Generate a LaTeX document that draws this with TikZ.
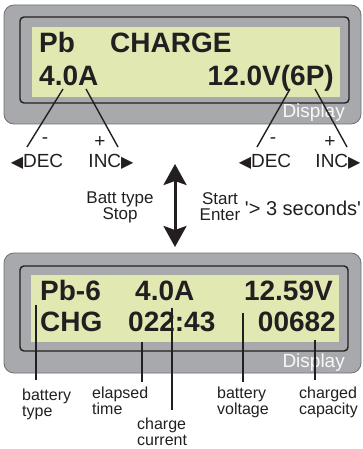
\documentclass[tikz,border=0pt]{standalone}
\usepackage{fontspec}
\setmainfont{Liberation Sans}
\newfontfamily\symfont{DejaVu Sans}
\font\quotefont="Liberation Sans" at 20pt
\usetikzlibrary{arrows.meta}
\definecolor{bezel}{HTML}{A7A9AC}
\definecolor{bezelline}{HTML}{6D6E71}
\definecolor{lcd}{HTML}{E1E8B2}
\definecolor{ink}{HTML}{231F20}
\newcommand{\lefttri}{{\symfont\fontsize{16}{16}\selectfont ◀}}
\newcommand{\righttri}{{\symfont\fontsize{16}{16}\selectfont ▶}}
\begin{document}
\begin{tikzpicture}[x=1pt,y=-1pt,
  bezelbox/.style={fill=bezel,draw=bezelline,line width=0.8pt,rounded corners=10pt},
  framebox/.style={draw=ink,line width=1.4pt,rounded corners=4pt},
  lcdbox/.style={fill=lcd},
  lcdtext/.style={font=\fontsize{28}{28}\selectfont\bfseries,text=ink,inner sep=0pt},
  disptext/.style={font=\fontsize{19}{19}\selectfont,text=white!92!bezel,inner sep=0pt,anchor=base east},
  keytext/.style={font=\fontsize{19}{19}\selectfont,text=ink,inner sep=0pt},
  midtext/.style={font=\fontsize{17}{16}\selectfont,text=ink,inner sep=0pt,align=center},
  lbl/.style={font=\fontsize{16}{15.5}\selectfont,text=ink,inner sep=0pt,align=left,anchor=base west},
  pointer/.style={draw=ink,line width=1.4pt},
  tick/.style={draw=ink,line width=1.2pt},
  bigarrow/.style={draw=ink,line width=3pt,{Stealth[length=21pt,width=23pt,inset=4pt]}-{Stealth[length=21pt,width=23pt,inset=4pt]}}
]
\useasboundingbox (0,0) rectangle (363,449);
% ---------- top display ----------
\path[bezelbox] (4,5) rectangle (361,124);
\path[framebox] (20,17) rectangle (349,103);
\path[lcdbox] (32,27) rectangle (340,97);
\node[lcdtext,anchor=base west] (pb) at (39,53) {Pb};
\node[lcdtext,anchor=base west] (charge) at (110,53) {CHARGE};
\node[lcdtext,anchor=base west] (amps) at (39,86) {4.0A};
\node[lcdtext,anchor=base east] (volts) at (334,86) {12.0V(6P)};
\node[disptext] (disp1) at (345,118) {Display};
% pointers
\coordinate (p1a) at (63,89);  \coordinate (p1b) at (27,147);
\coordinate (p2a) at (86,89);  \coordinate (p2b) at (118,147);
\coordinate (p3a) at (290,89); \coordinate (p3b) at (257,147);
\coordinate (p4a) at (315,89); \coordinate (p4b) at (347,147);
\draw[pointer] (p1a) -- (p1b);
\draw[pointer] (p2a) -- (p2b);
\draw[pointer] (p3a) -- (p3b);
\draw[pointer] (p4a) -- (p4b);
\node[keytext] (m1) at (45,141) {-};
\node[keytext] (pl1) at (100,142) {+};
\node[keytext] (dec1) at (37,162) {\lefttri DEC};
\node[keytext] (inc1) at (111,162) {INC\righttri};
\node[keytext] (m2) at (273,141) {-};
\node[keytext] (pl2) at (330,142) {+};
\node[keytext] (dec2) at (265,162) {\lefttri DEC};
\node[keytext] (inc2) at (338,162) {INC\righttri};
% ---------- middle ----------
\coordinate (arrtop) at (175,164);
\coordinate (arrbot) at (175,247);
\draw[bigarrow] (arrtop) -- (arrbot);
\node[midtext] (batt) at (120,207) {Batt type\\Stop};
\node[midtext] (start) at (220,207) {Start\\Enter};
\node[text=ink,inner sep=0pt] (secs) at (303,208) {\quotefont '> 3 seconds'};
% ---------- bottom display ----------
\path[bezelbox] (4,253) rectangle (361,373);
\path[framebox] (20,266) rectangle (348,351);
\path[lcdbox] (31,275) rectangle (339,342);
\node[lcdtext,anchor=base west] (pb6) at (40,300) {Pb-6};
\node[lcdtext,anchor=base west] (amps2) at (135,300) {4.0A};
\node[lcdtext,anchor=base east] (volts2) at (333,300) {12.59V};
\node[lcdtext,anchor=base west] (chg) at (40,331) {CHG};
\node[lcdtext,anchor=base west] (time) at (128,331) {022:43};
\node[lcdtext,anchor=base east] (cap) at (336,331) {00682};
\node[disptext] (disp2) at (345,367) {Display};
% labels (base anchor = baseline of last line)
\node[lbl] (ltype) at (22,416) {battery\\type};
\node[lbl] (ltime) at (92,414) {elapsed\\time};
\node[lbl] (lcur) at (137,445) {charge\\current};
\node[lbl] (lvolt) at (217,414) {battery\\voltage};
\node[lbl] (lcap) at (299,414) {charged\\capacity};
% ticks
\coordinate (t1a) at (36,305);  \coordinate (t1b) at (36,380);
\coordinate (t2a) at (142,342); \coordinate (t2b) at (142,382);
\coordinate (t3a) at (172,308); \coordinate (t3b) at (172,410);
\coordinate (t4a) at (243,313); \coordinate (t4b) at (243,382);
\coordinate (t5a) at (315,340); \coordinate (t5b) at (315,380);
\draw[tick] (t1a) -- (t1b);
\draw[tick] (t2a) -- (t2b);
\draw[tick] (t3a) -- (t3b);
\draw[tick] (t4a) -- (t4b);
\draw[tick] (t5a) -- (t5b);
\end{tikzpicture}
\end{document}
